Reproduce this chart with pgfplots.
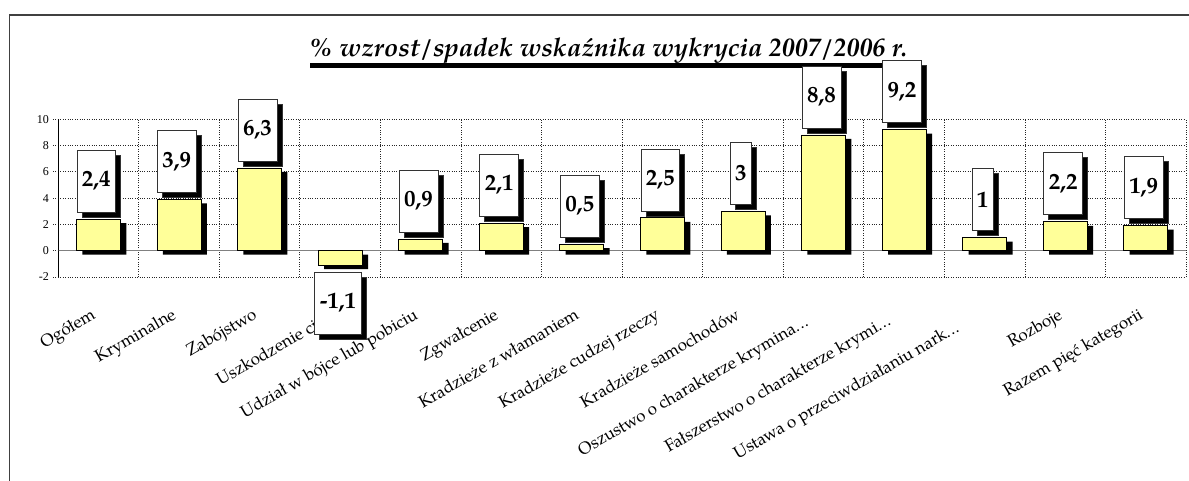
\documentclass[border=0pt]{standalone}
\usepackage{fontspec}
\setmainfont{TeX Gyre Pagella}
\newfontfamily\tickfont{Liberation Serif}
\usepackage{pgfplots}
\pgfplotsset{compat=1.18}
\usetikzlibrary{shadows}
\definecolor{baryellow}{HTML}{FFFF99}
\newcommand{\ddd}{.\kern0.8pt.\kern0.8pt.}
\pgfplotsset{layers/labelsontop/.define layer set={axis background,axis grid,axis ticks,pre main,main,axis lines,axis descriptions,axis foreground,axis tick labels}{}}
\begin{document}
\begin{tikzpicture}[x=1pt,y=1pt]
\fill[white] (0,0) rectangle (1189,480);
\draw[overlay, line width=1.3pt, black!75] (9.5,-2) -- (9.5,465) -- (1191,465);
\node[font=\bfseries\itshape\fontsize{25.8}{28}\selectfont, anchor=base west, inner sep=0pt] at (310,423.5) {\% wzrost/spadek wskaźnika wykrycia 2007/2006 r.};
\draw[line width=4.4pt] (310,414.5) -- (892,414.5);
\begin{axis}[
  set layers=labelsontop,
  at={(58pt,203pt)}, anchor=south west,
  scale only axis, width=1128pt, height=157.8pt,
  xmin=-0.5, xmax=13.5, ymin=-2, ymax=10,
  clip=false,
  axis y line*=left, axis x line*=bottom,
  x axis line style={draw=none},
  y axis line style={black, line width=0.8pt},
  /pgf/number format/assume math mode=true,
  ytick={-2,0,...,10},
  ymajorgrids,
  grid style={black!85, line width=0.7pt, dash pattern=on 1pt off 1.4pt},
  tick align=outside, major tick length=5pt,
  y tick style={black!85, line width=0.7pt, dash pattern=on 1pt off 1.4pt},
  yticklabel style={font=\tickfont\fontsize{12}{13}\selectfont, inner sep=4pt},
  extra y ticks={0}, extra y tick labels={},
  extra y tick style={grid style={solid, black!50, line width=1.5pt}, tick style={solid, black!50, line width=1.5pt}},
  xtick={0,1,2,3,4,5,6,7,8,9,10,11,12,13},
  major x tick style={draw=none},
  minor xtick={0.5,1.5,2.5,3.5,4.5,5.5,6.5,7.5,8.5,9.5,10.5,11.5,12.5,13.5},
  xminorgrids,
  minor x tick style={draw=none},
  xticklabel style={xshift=-8pt, yshift=-25pt, rotate=30, anchor=north east, inner sep=0pt, font=\fontsize{17}{18}\selectfont},
  xticklabels={Ogółem, Kryminalne, Zabójstwo, Uszkodzenie ciała, Udział w bójce lub pobiciu, Zgwałcenie, Kradzieże z włamaniem, Kradzieże cudzej rzeczy, Kradzieże samochodów, {Oszustwo o charakterze krymina\ddd\hspace*{14pt}}, {Fałszerstwo o charakterze krymi\ddd\hspace*{12pt}}, {Ustawa o przeciwdziałaniu nark\ddd\hspace*{26pt}}, Rozboje, Razem pięć kategorii},
]
\addplot[ybar, bar width=44pt, bar shift=6pt, yshift=-4pt, fill=black, draw=none] coordinates {
(0,2.4) (1,3.9) (2,6.3) (3,-1.1) (4,0.9) (5,2.1) (6,0.5) (7,2.5) (8,3) (9,8.8) (10,9.2) (11,1) (12,2.2) (13,1.9)};
\addplot[ybar, bar width=44pt, bar shift=0pt, fill=baryellow, draw=black, line width=0.7pt,
  nodes near coords={\pgfmathprintnumber[fixed,precision=1,use comma,assume math mode=true]{\pgfplotspointmeta}},
  nodes near coords align={vertical},
  every node near coord/.append style={font=\bfseries\fontsize{23}{24}\selectfont, fill=white, draw=black!80, line width=0.6pt, inner xsep=5pt, inner ysep=0pt, minimum height=62pt, outer ysep=7pt, xshift=-2pt, drop shadow={shadow xshift=5pt, shadow yshift=-5pt, opacity=1, fill=black}}
] coordinates {
(0,2.4) (1,3.9) (2,6.3) (3,-1.1) (4,0.9) (5,2.1) (6,0.5) (7,2.5) (8,3) (9,8.8) (10,9.2) (11,1) (12,2.2) (13,1.9)};
\end{axis}
\end{tikzpicture}
\end{document}
